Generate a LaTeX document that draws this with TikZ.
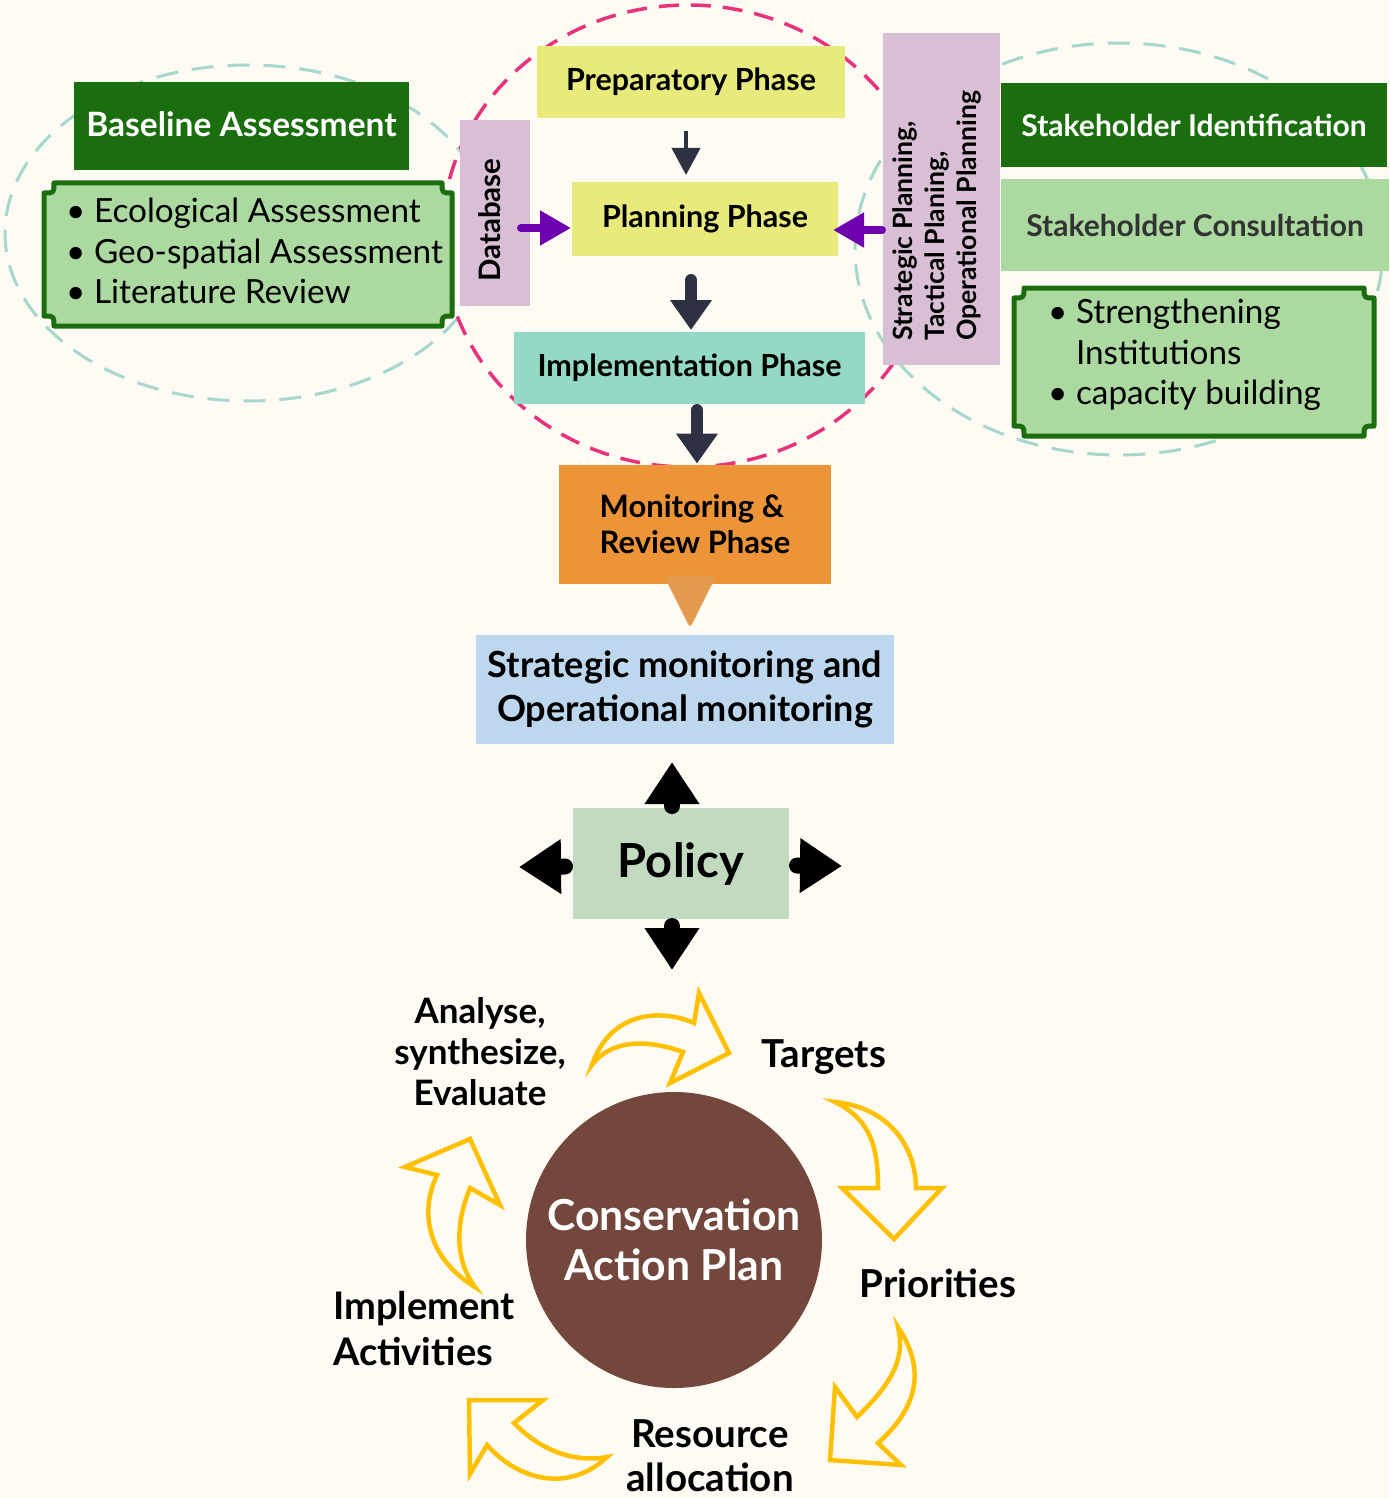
\documentclass[tikz,border=0pt]{standalone}
\usepackage{fontspec}
\setmainfont{Lato}
\usetikzlibrary{arrows.meta,calc}
\definecolor{bgc}{HTML}{FEFAF4}
\definecolor{dgreen}{HTML}{1B6E0E}
\definecolor{lgreen}{HTML}{ABD9A0}
\definecolor{lav}{HTML}{D8BFD5}
\definecolor{yel}{HTML}{E8EA7B}
\definecolor{teal}{HTML}{93D9C6}
\definecolor{orng}{HTML}{EE9438}
\definecolor{orngtri}{HTML}{E39A4E}
\definecolor{lblue}{HTML}{BDD7EE}
\definecolor{polg}{HTML}{C2DAC0}
\definecolor{brown}{HTML}{73473B}
\definecolor{gold}{HTML}{FFC000}
\definecolor{pinkd}{HTML}{E8327C}
\definecolor{teald}{HTML}{A5D7CC}
\definecolor{purp}{HTML}{6F00B0}
\definecolor{navy}{HTML}{2D3142}
\definecolor{dgray}{HTML}{333333}
\tikzset{
  box/.style={inner sep=0pt, outer sep=0pt},
  phasetext/.style={font=\bfseries\fontsize{30.5}{36}\selectfont},
  bullettext/.style={font=\fontsize{33.3}{40.5}\selectfont, align=left, inner sep=0pt},
  pinkdash/.style={draw=pinkd, line width=3.5pt, dash pattern=on 20pt off 12pt},
  tealdash/.style={draw=teald, line width=3pt, dash pattern=on 22pt off 14pt},
  scrollbox/.style={fill=lgreen, draw=dgreen, line width=5pt, line join=round},
  navythin/.style={draw=navy, line width=4pt, -{Triangle[length=27pt,width=28pt]}},
  navythick/.style={draw=navy, line width=12pt, line cap=round, -{Triangle[length=30pt,width=40pt]}},
  purparrow/.style={draw=purp, fill=purp, line width=8pt, line cap=round, -{Triangle[length=31pt,width=33pt]}},
  polarrow/.style={draw=black, fill=black, line width=16pt, line cap=round, -{Triangle[length=42pt,width=52pt]}},
  cyclearrow/.style={draw=gold, line width=4.5pt, line join=miter, fill=bgc},
  cyclelabel/.style={font=\bfseries\fontsize{38.5}{44}\selectfont, inner sep=0pt, align=center},
}
\begin{document}
\begin{tikzpicture}[x=1pt,y=-1pt]
\fill[bgc] (0,0) rectangle (1389,1498);
\useasboundingbox (0,0) rectangle (1389,1498);

% dashed ellipses
\draw[tealdash] (248,233) ellipse [x radius=243pt, y radius=168pt];
\draw[tealdash] (1119,249) ellipse [x radius=264pt, y radius=206pt];
\draw[pinkdash] (688,236) ellipse [x radius=246pt, y radius=231pt];

% left group
\node[box, fill=dgreen, minimum width=335pt, minimum height=88pt, text=white,
      font=\bfseries\fontsize{33.5}{40}\selectfont] (base) at (241.5,126) {\raisebox{3pt}{Baseline Assessment}};
\path[scrollbox] (54,183) -- (442,183) .. controls (442,193) .. (452,193) -- (452,316)
  .. controls (442,316) .. (442,326) -- (54,326) .. controls (54,316) .. (44,316)
  -- (44,193) .. controls (54,193) .. (54,183) -- cycle;
\node[bullettext, anchor=west] (blist) at (66,251) {• Ecological Assessment\\• Geo-spatial Assessment\\• Literature Review};

\node[box, fill=lav, minimum width=70pt, minimum height=186pt] (db) at (495,213) {};
\node[phasetext, rotate=90, inner sep=0pt, font=\bfseries\fontsize{29.5}{36}\selectfont] (dbtext) at (490,220) {Database};

% phases
\node[box, fill=yel, minimum width=308pt, minimum height=72pt, phasetext] (prep) at (691,82) {Preparatory Phase};
\node[box, fill=yel, minimum width=266pt, minimum height=74pt, phasetext] (plan) at (705,219) {Planning Phase};
\node[box, fill=teal, minimum width=351pt, minimum height=72pt, phasetext] (impl) at (689.5,368) {Implementation Phase};
\node[box, fill=orng, minimum width=272pt, minimum height=119pt, align=left,
      font=\bfseries\fontsize{31}{36}\selectfont] (mon) at (695,524) {Monitoring \&\\Review Phase};
\fill[orngtri, rounded corners=4pt] (664,576) -- (716,576) -- (690,628) -- cycle;

\draw[navythin] ($(prep.south)+(-5,13)$) -- ($(plan.north)+(-19,-7)$);
\draw[navythick] ($(plan.south)+(-14,24)$) -- ($(impl.north)+(1.5,-2)$);
\draw[navythick] ($(impl.south)+(7.5,6)$) -- ($(mon.north)+(2,-1)$);

% right group
\node[box, fill=lav, minimum width=117pt, minimum height=332pt] (sbox) at (941.5,199) {};
\node[rotate=90, inner sep=0pt, align=left, font=\bfseries\fontsize{26.6}{32}\selectfont]
  (stext) at (937,216) {Strategic Planning,\\Tactical Planing,\\Operational Planning};
\node[box, fill=dgreen, minimum width=386pt, minimum height=84pt, text=white,
      font=\bfseries\fontsize{30}{36}\selectfont] (sid) at (1194,125) {Stakeholder Identification};
\node[box, fill=lgreen, minimum width=388pt, minimum height=92pt, text=dgray,
      font=\bfseries\fontsize{30}{36}\selectfont] (scon) at (1195,225) {Stakeholder Consultation\hspace{14pt}};
\path[scrollbox] (1024,288) -- (1364,288) .. controls (1364,298) .. (1374,298) -- (1374,426)
  .. controls (1364,426) .. (1364,436) -- (1024,436) .. controls (1024,426) .. (1014,426)
  -- (1014,298) .. controls (1024,298) .. (1024,288) -- cycle;
\node[bullettext, anchor=west] (slist) at (1048,355) {• Strengthening\\\hphantom{• }Institutions\\• capacity building};

\draw[purparrow] ($(db.east)+(-9,15)$) -- ($(plan.west)+(-1,9)$);
\draw[purparrow] ($(sbox.west)+(-1,31)$) -- ($(plan.east)+(-5,11)$);

% monitoring + policy
\node[box, fill=lblue, minimum width=418pt, minimum height=109pt, align=center,
      font=\bfseries\fontsize{36}{44}\selectfont] (smon) at (685,689.5) {Strategic monitoring and\\Operational monitoring};
\node[box, fill=polg, minimum width=216pt, minimum height=111pt,
      font=\bfseries\fontsize{47}{52}\selectfont] (policy) at (681,863.5) {Policy};
\coordinate (tipU) at (672,762);
\coordinate (tipD) at (672,970);
\coordinate (tipL) at (519,867);
\coordinate (tipR) at (842,866);
\draw[polarrow] ($(policy.north)+(-9,-2)$) -- (tipU);
\draw[polarrow] ($(policy.south)+(-9,7)$) -- (tipD);
\draw[polarrow] ($(policy.west)+(-8,3)$) -- (tipL);
\draw[polarrow] ($(policy.east)+(8,2)$) -- (tipR);

% cycle
\node[circle, fill=brown, minimum size=296pt, inner sep=0pt, text=white, align=center,
      font=\bfseries\fontsize{42.7}{50}\selectfont] (cap) at (674,1240) {Conservation\\Action Plan};

\node[cyclelabel, font=\bfseries\fontsize{35}{41}\selectfont] (lanalyse) at (480,1052) {Analyse,\\synthesize,\\Evaluate};
\node[cyclelabel] (ltargets) at (824,1057) {Targets};
\node[cyclelabel] (lprior) at (938,1283) {Priorities};
\node[cyclelabel] (lres) at (710,1456) {Resource\\allocation};
\node[cyclelabel, align=left, anchor=west, font=\bfseries\fontsize{38}{46}\selectfont] (limpl) at (333,1329) {Implement\\Activities};

% curved hollow arrows
\path[cyclearrow] (592,1065) .. controls (610,1012) and (660,1008) .. (694,1023) -- (699,993)
  -- (729,1053) -- (670,1083) -- (683,1052) .. controls (650,1040) and (612,1038) .. (592,1065) -- cycle;
\path[cyclearrow] (835,1102) .. controls (892,1108) and (916,1150) .. (916,1188) -- (942,1188)
  -- (894,1239) -- (842,1188) -- (878,1188) .. controls (878,1150) and (872,1120) .. (835,1102) -- cycle;
\path[cyclearrow] (898,1327) .. controls (928,1372) and (915,1410) .. (878,1443) -- (901,1465)
  -- (830,1460) -- (835,1387) -- (857,1417) .. controls (890,1385) and (906,1360) .. (898,1327) -- cycle;
\path[cyclearrow] (607,1457) .. controls (570,1492) and (520,1482) .. (487,1445) -- (470,1474)
  -- (469,1400) -- (543,1400) -- (514,1423) .. controls (545,1455) and (580,1462) .. (607,1457) -- cycle;
\path[cyclearrow] (475,1287) .. controls (430,1260) and (418,1215) .. (437,1175) -- (405,1167)
  -- (470,1139) -- (500,1205) -- (470,1188) .. controls (455,1225) and (455,1260) .. (475,1287) -- cycle;
\end{tikzpicture}
\end{document}
